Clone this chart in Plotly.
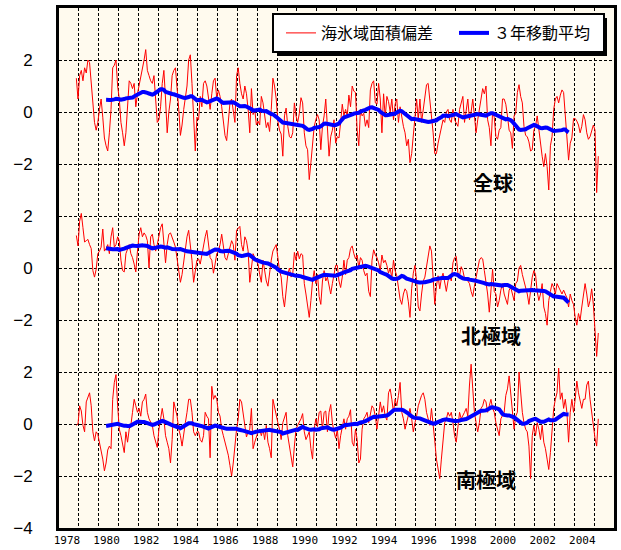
import numpy as np
import pandas as pd
import plotly.graph_objects as go

# ---------------- data (monthly anomalies, Nov 1978 - Mar 2005) ----------------
START_YEAR = 1978
START_MONTH = 11

global_anom = [
    1.3, 0.5,                                                        # 1978 Nov-Dec
    1.4, 1.6, 1.2, 1.7, 1.5, 2.0, 1.9, 1.0, 0.5, -0.4, -0.7, -0.4,   # 1979
    0.1, 0.5, -0.2, -1.0, -1.3, -1.5, -0.8, 0.1, 1.7, 1.8, 2.0, 1.0, # 1980
    0.5, -0.4, -0.8, -1.3, -0.8, 0.1, 1.2, 1.1, 0.9, 1.1, 0.2, 0.7,  # 1981
    1.0, 1.4, 1.6, 2.0, 2.4, 1.6, 1.4, 1.2, 1.1, 1.4, 0.5, -0.4,     # 1982
    -0.3, 0.2, 1.1, 1.6, 0.5, -0.8, 0.0, 0.5, 1.4, 1.6, 1.7, 1.0,    # 1983
    0.1, -0.9, -0.5, 0.1, 0.5, 1.0, 2.0, 2.2, 1.1, 0.0, -1.5, -0.2,  # 1984
    -0.3, 0.6, 0.2, 1.1, 1.2, 1.0, 0.5, 0.1, 0.7, 1.2, 1.3, 0.5,     # 1985
    0.85, 0.6, 0.2, -0.5, -0.9, -1.1, -0.3, 0.35, 0.5, 0.1, -0.4, 1.4,   # 1986
    1.7, 1.1, 0.7, 0.5, 1.0, 0.7, 0.1, -0.8, 0.9, -0.1, 0.1, -0.5,   # 1987
    -0.35, -0.5, 0.6, 0.35, -0.15, -0.6, -0.4, -0.75, 0.1, 1.3, 1.0, 0.5,    # 1988
    -0.35, -0.7, -0.85, -1.7, -0.15, 0.15, -0.55, -0.95, -1.0, -0.8, 0.35, -0.15,    # 1989
    -0.4, -0.05, 0.55, 0.35, -0.8, -1.3, -1.45, -2.6, -1.95, -1.2, -0.55, -0.3,  # 1990
    -0.1, -0.3, -1.45, -0.55, -0.15, 0.5, -0.7, -1.7, -0.95, -0.7, -0.3, -1.2,   # 1991
    -0.95, -1.0, -0.4, 0.3, -0.15, 0.1, -0.15, 0.65, 0.2, 1.0, 0.8, 0.75,        # 1992
    -0.7, -1.3, 0.1, -0.15, -0.05, -0.55, -0.3, -0.6, 0.85, 1.1, 1.2, 0.35,      # 1993
    0.3, 1.1, 0.5, -0.8, 0.7, -0.2, 0.6, 0.4, 0.0, 0.5, -0.3, 0.3,   # 1994
    0.5, -0.4, 0.2, -0.2, -0.55, -0.8, -1.3, -1.05, -1.95, -1.6, -0.8, -0.3, # 1995
    0.5, -0.3, 0.5, -0.4, 0.1, 0.5, 1.05, 1.1, 0.5, 0.0, -0.8, -1.6,     # 1996
    -1.6, -1.2, -0.9, -0.55, -0.3, -0.4, 0.0, 0.1, -0.3, -0.4, 0.1, -0.3,    # 1997
    -0.4, -0.55, 0.1, 0.35, 0.6, -0.4, 0.1, 0.5, -0.3, 0.0, 0.5, -0.15,      # 1998
    -0.8, -0.3, 0.1, 0.6, 0.9, 0.7, 1.0, -0.3, -0.6, -1.3, 0.0, -0.2,        # 1999
    -0.95, -1.05, -0.7, -0.6, 0.5, 0.5, 0.3, -0.15, -0.7, -0.8, -1.4, -0.15, # 2000
    -0.05, 0.75, 1.05, 0.6, 0.35, -0.55, -0.9, -0.95, -1.15, -1.5, -1.45, -0.7,  # 2001
    -0.55, -0.15, -0.7, -1.25, -1.7, -2.1, -1.6, -2.1, -3.0, -1.3, -0.95, 0.1,   # 2002
    0.5, 0.6, 0.35, 0.65, 0.85, 0.75, -0.15, -1.3, -1.85, -1.2, -1.0, -0.25,     # 2003
    -0.25, -0.35, -0.5, -0.8, -0.55, -0.1, -0.3, -0.8, -1.05, -0.95, -0.7, -0.5, # 2004
    -0.7, -3.1, -1.7,                                                 # 2005 Jan-Mar
]

north_anom = [
    1.25, 0.85,
    1.8, 2.1, 1.55, 1.0, 1.05, 1.1, 0.9, 0.75, -0.1, -0.35, -0.05, 0.55,     # 1979
    0.65, 0.8, 1.5, 0.65, 0.75, 0.9, 0.55, 1.2, 1.55, 0.8, 0.9, 1.2,         # 1980
    1.05, 0.3, -0.1, -0.15, 0.55, 0.75, 0.9, 0.55, 0.4, 0.15, -0.15, 0.65,   # 1981
    1.3, 1.55, 1.2, 1.35, 1.25, 1.05, 0.0, 1.2, 1.3, 0.9, 0.65, 0.9,         # 1982
    1.2, 1.55, 1.7, 1.05, 0.2, 0.9, 1.3, 1.35, 1.2, 1.0, 0.8, 0.4,           # 1983
    -0.1, -0.55, -0.25, 0.3, 0.65, 1.2, 1.45, 0.9, 0.3, -0.55, -0.1, 0.3,    # 1984
    0.35, 0.15, 0.5, 0.9, 1.2, 1.45, 0.9, 0.4, 0.3, -0.2, 0.15, 0.55,        # 1985
    0.65, 0.9, 1.3, 0.8, 0.4, 0.3, 0.55, 0.9, 1.05, 0.9, 0.3, 1.45,          # 1986
    1.55, 1.6, 0.9, 0.65, 1.2, 1.05, 0.65, -0.55, 0.0, 0.55, 0.4, 0.3,       # 1987
    0.15, -0.25, -0.55, 0.3, -0.1, -0.5, -0.7, -0.1, 0.3, 0.65, 0.8, 0.9,    # 1988
    0.4, -0.1, -0.35, -1.1, -1.5, -0.75, -0.25, 0.0, -0.35, -0.25, 0.6, 0.3, # 1989
    0.65, 0.35, 0.55, 0.5, -0.6, -1.0, -1.4, -1.9, -1.25, -0.5, -0.1, -0.6,  # 1990
    -0.25, -1.1, -1.4, -0.5, -0.1, -0.5, -0.35, -0.75, -1.0, -0.6, -0.25, 0.1,   # 1991
    0.1, -0.5, -0.75, -0.35, 0.3, -0.25, 0.3, 0.4, 0.75, 0.85, 0.55, 0.35,   # 1992
    0.5, 0.0, 0.4, 0.3, -0.1, -0.3, -0.2, -0.9, -1.1, 0.3, 0.7, 0.5,         # 1993
    0.4, 0.2, -0.1, 0.5, 0.2, 0.3, 0.1, -0.2, 0.0, -0.4, 0.3, -0.1,          # 1994
    -0.3, -0.8, -1.2, -1.4, -1.0, -0.8, -0.9, -1.3, -1.9, -0.8, -0.2, 0.1,   # 1995
    -0.5, -1.5, -1.65, -1.0, -0.5, -0.35, 0.1, 0.55, 0.85, 0.65, -0.35, -1.4,    # 1996
    -0.7, -0.3, -0.8, -0.4, -0.2, -0.6, -0.9, -0.5, -0.3, -0.5, 0.2, 0.4,    # 1997
    0.45, -0.2, -0.3, 0.05, -0.1, -0.4, -0.4, -0.5, -0.6, -0.9, -1.1, -0.7,  # 1998
    -0.35, -0.1, 0.3, 0.4, 0.35, -0.1, -0.5, -1.0, -1.7, -0.9, -0.05, -0.9,  # 1999
    -1.0, -1.5, -1.25, -0.85, -0.6, -1.0, -1.25, -1.4, -0.85, -0.75, -1.0, -1.25,    # 2000
    -0.6, -0.5, 0.0, 0.1, -0.25, -0.5, -0.75, -1.0, -1.4, -0.75, -0.35, -0.1,    # 2001
    -0.25, -0.9, -1.25, -1.0, -0.6, -1.5, -1.75, -2.2, -1.25, -0.9, -0.6, -0.75, # 2002
    -1.0, -0.6, -0.75, -0.85, -1.0, -0.85, -1.0, -1.15, -1.5, -1.0, -1.25, -1.4, # 2003
    -1.9, -2.2, -1.75, -2.0, -1.5, -1.0, -0.6, -1.0, -1.5, -1.25, -0.8, -1.4,    # 2004
    -2.3, -3.4, -2.5,
]

south_anom = [
    -0.05, 0.0,
    0.7, 0.5, -0.05, -0.3, 0.85, 1.0, 1.2, 0.7, -0.3, -0.65, -0.3, -0.4,     # 1979
    -0.7, -1.0, -1.35, -1.8, -1.5, -1.0, -0.85, -0.95, 0.95, 1.6, 1.9, 0.7,  # 1980
    -0.2, -0.45, -0.85, -1.1, -0.3, -0.7, -0.2, -0.05, 0.45, 0.95, 0.7, 0.45,    # 1981
    0.6, 0.3, 0.85, 0.95, 1.15, 0.45, 0.2, 0.05, -0.05, -0.45, -0.7, -0.9,   # 1982
    -0.2, 0.3, 0.6, 0.2, -0.45, -0.7, -0.95, -1.5, -0.6, 0.85, 0.6, 0.3,     # 1983
    -0.2, -0.45, -0.85, -0.3, 0.05, 0.45, 0.95, 0.95, 0.45, -0.3, -0.45, -0.3,   # 1984
    -0.3, -0.6, -0.7, -0.45, 0.45, 0.3, 0.2, -1.3, 1.45, 0.95, 1.1, 0.95,    # 1985
    0.45, 0.3, -0.2, -0.45, -0.7, -0.85, -1.2, -1.6, -2.0, -1.5, -0.7, -0.2, # 1986
    0.2, 0.95, 0.85, 0.45, 0.05, -0.5, -0.3, -0.2, 0.6, -0.95, -0.7, -0.45,  # 1987
    -0.3, -0.2, -0.45, -0.2, -0.6, -0.05, -0.7, -0.95, -1.3, 0.95, 0.6, 0.3, # 1988
    0.05, -0.2, -0.6, 0.05, 0.3, 0.45, -0.45, -0.85, -1.2, -1.65, -0.85, -0.2,   # 1989
    -0.05, 0.05, 0.2, 0.4, -0.3, -0.6, -0.45, -0.3, -0.95, -1.35, -0.2, 0.2, # 1990
    -0.1, 0.45, 0.5, -0.2, 0.45, 0.5, -0.3, 0.45, 0.75, 0.05, -0.3, -0.55,   # 1991
    -0.2, -0.95, -0.45, -0.05, 0.2, -0.2, 0.2, 0.3, 0.55, -0.7, -0.85, -0.2, # 1992
    -0.6, -1.5, -1.35, -0.2, 0.2, 0.3, 0.45, 0.05, 0.45, 0.7, 0.6, 0.3,      # 1993
    -0.2, 0.45, 0.85, 0.45, 0.7, 0.3, 0.15, 1.2, 1.35, 0.95, 0.45, 0.95,     # 1994
    0.7, 1.1, 1.6, 0.45, 0.2, -0.2, 0.05, 0.3, 0.6, 0.2, -0.3, 0.05,         # 1995
    0.3, 0.7, 0.95, 1.1, 1.2, 0.95, 0.45, 0.2, -0.05, 0.6, -0.2, -0.65,      # 1996
    -1.35, -1.75, -2.1, -1.35, -0.45, 0.05, 0.2, 0.45, 0.3, 0.45, 0.05, -0.45,   # 1997
    -0.7, -0.2, 0.45, 0.2, 0.3, 0.45, 0.6, 0.3, 1.5, 2.3, 1.35, 0.45,        # 1998
    0.05, -0.3, 0.05, 0.6, 0.7, 0.95, 0.85, 0.45, 0.7, 0.95, 0.6, 0.45,      # 1999
    0.05, -0.2, -0.45, 0.2, 0.3, 0.45, 1.1, 1.35, 1.85, 1.1, 0.45, -0.2,     # 2000
    0.3, 0.45, 2.0, 1.2, 0.45, 0.05, -0.2, -0.3, -0.85, -2.1, -0.45, -0.05,  # 2001
    -0.45, 0.05, -0.2, -0.6, -0.05, -0.7, -0.95, -1.35, -1.75, -1.1, -0.2, 0.6,  # 2002
    0.95, 1.2, 2.15, 0.95, 1.2, 0.6, 0.95, 0.45, -0.7, 0.45, 0.95, 0.45,     # 2003
    0.95, 1.65, 1.2, 0.85, 0.6, 0.95, 0.95, 1.5, 1.65, 0.95, 0.45, -0.2,     # 2004
    -0.55, -0.85, 0.2,
]

region_labels = ["全球", "北極域", "南極域"]
region_offsets = [12, 6, 0]          # vertical offset of each panel on the shared axis
legend_names = ["海氷域面積偏差\u3000", "３年移動平均"]
x_tick_years = list(range(1978, 2005, 2))
y_tick_vals = [-4, -2, 0, 2, 4, 6, 8, 10, 12, 14]
y_tick_text = ["−4", "−2", "0", "2", "−2", "0", "2", "−2", "0", "2"]
MA_WINDOW = 37   # 3-year centred running mean (months)

# ---------------- build figure ----------------
n = len(global_anom)
months = np.arange(n) + (START_MONTH - 1)
t = START_YEAR + (months + 0.5) / 12.0

fig = go.Figure()
series = [global_anom, north_anom, south_anom]
for i, (vals, off) in enumerate(zip(series, region_offsets)):
    s = pd.Series(vals, dtype=float)
    ma = s.rolling(MA_WINDOW, center=True).mean()
    fig.add_trace(go.Scatter(x=t, y=s + off, mode="lines",
                             line=dict(color="#FF0000", width=1),
                             name=legend_names[0], showlegend=(i == 0),
                             legendrank=1))
    fig.add_trace(go.Scatter(x=t, y=ma + off, mode="lines",
                             line=dict(color="#0000FF", width=4),
                             name=legend_names[1], showlegend=(i == 0),
                             legendrank=2))

PX_L, PX_R, PX_T, PX_B = 59, 614, 8, 528
def px2paper(xp, yp):
    return (xp - PX_L) / (PX_R - PX_L), (PX_B - yp) / (PX_B - PX_T)

# legend box with shadow
sx0, sy0 = px2paper(277, 56)
sx1, sy1 = px2paper(607, 18)
bx0, by0 = px2paper(273, 52)
bx1, by1 = px2paper(604, 14)
fig.add_shape(type="rect", xref="paper", yref="paper", x0=sx0, y0=sy0, x1=sx1, y1=sy1,
              fillcolor="black", line=dict(width=0), layer="above")
fig.add_shape(type="rect", xref="paper", yref="paper", x0=bx0, y0=by0, x1=bx1, y1=by1,
              fillcolor="white", line=dict(color="black", width=2), layer="above")

lx, ly = px2paper(596, 33)
fig.update_layout(
    width=621, height=550, autosize=False,
    margin=dict(l=PX_L, r=621 - PX_R, t=PX_T, b=550 - PX_B, pad=0),
    paper_bgcolor="white",
    plot_bgcolor="#FFFAEE",
    showlegend=True,
    legend=dict(orientation="h", x=lx, y=ly, xanchor="right", yanchor="middle",
                bgcolor="rgba(0,0,0,0)", borderwidth=0,
                font=dict(family="Noto Sans CJK JP", size=16, color="black"),
                traceorder="normal"),
    font=dict(family="Liberation Sans", color="black"),
)

fig.update_xaxes(
    range=[1978, 2006], automargin=False,
    tickmode="array",
    tickvals=[y + 0.4 for y in x_tick_years],
    ticktext=[str(y) for y in x_tick_years],
    tickfont=dict(family="DejaVu Sans Mono", size=11, color="black"),
    ticks="", showgrid=False, zeroline=False,
    showline=True, linecolor="black", linewidth=3, mirror=True,
    minor=dict(tick0=1978, dtick=1, showgrid=True, gridcolor="black",
               gridwidth=1, griddash="3px,2px", ticks=""),
)
fig.update_yaxes(
    range=[-4, 16], automargin=False,
    tickmode="array", tickvals=y_tick_vals, ticktext=y_tick_text,
    tickfont=dict(family="Liberation Sans", size=17, color="black"),
    ticks="", ticklabelstandoff=20,
    showgrid=True, gridcolor="black", gridwidth=1, griddash="3px,2px",
    zeroline=False,
    showline=True, linecolor="black", linewidth=3, mirror=True,
)

label_pos = [(1999.9, 9.3), (1999.8, 3.4), (1999.55, -2.15)]
for txt, (ax_, ay_) in zip(region_labels, label_pos):
    fig.add_annotation(x=ax_, y=ay_, text=txt, showarrow=False,
                       font=dict(family="Noto Sans CJK JP", size=20, color="black",
                                 weight="bold"))

fig.write_html("out.html",
               config={"displayModeBar": False, "responsive": False},
               post_script="document.body.style.margin='0';document.body.style.padding='0';"
                           "document.body.style.overflow='hidden';")
